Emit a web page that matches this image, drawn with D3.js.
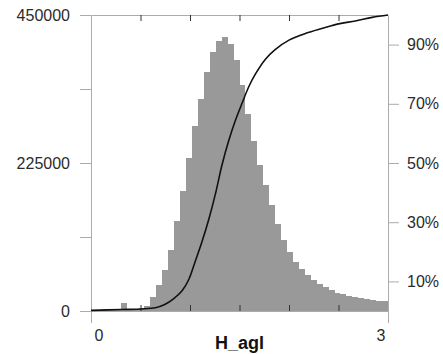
<!DOCTYPE html>
<html>
<head>
<meta charset="utf-8">
<script src="https://cdn.jsdelivr.net/npm/d3@7"></script>
<style>
  body { margin: 0; background: #fff; }
  svg { display: block; font-family: "Liberation Sans", Arial, sans-serif; }
</style>
</head>
<body>
<div id="graph"></div>
<script>
// histogram of H_agl, 50 bins of 0.06 between 0 and 3
const binWidth = 0.06;
const counts = [
  1000, 1500, 3000, 2000, 2500, 12000, 2500, 3000, 4500, 7700,
  21000, 39500, 62000, 93000, 137000, 183000, 232000, 281000, 323000, 363000,
  393000, 410000, 417000, 406000, 381000, 344000, 299000, 258000, 222000, 192000,
  161000, 132000, 108000, 89000, 75000, 64000, 55000, 47500, 41000, 36000,
  31500, 28000, 25500, 23000, 21000, 19300, 17800, 16700, 15800, 15000
];

// cumulative curve (x, percent)
const cdfX   = [0, 0.31, 0.51, 0.65, 0.75, 0.83, 0.92, 0.99, 1.05, 1.12, 1.19, 1.26, 1.32, 1.39, 1.46, 1.53, 1.59, 1.66, 1.76, 1.86, 2.0, 2.17, 2.34, 2.5, 2.67, 2.84, 3.0];
const cdfPct = [0.2, 0.5, 0.7, 1.1, 2.3, 4, 6.8, 10.8, 16.5, 23.3, 31, 40, 48.9, 57.4, 64.5, 70.5, 75.5, 80, 85, 88.3, 91.5, 93.8, 95.5, 97, 98, 99.2, 100];

const leftTicks = [0, 112500, 225000, 337500, 450000];
const leftLabels = [0, 225000, 450000];
const rightTicks = [10, 30, 50, 70, 90];
const innerTicks = [0.5, 1, 1.5, 2, 2.5];
const xLabels = [0, 3];
const xTitle = "H_agl";

const W = 443, H = 354;
const margin = { top: 15, right: 55, bottom: 43, left: 91 };
const x0 = margin.left, x1 = W - margin.right;   // 91 .. 388
const y0 = H - margin.bottom, y1 = margin.top;   // 311 .. 15

const xScale = d3.scaleLinear().domain([0, 3]).range([x0, x1]);
const yScale = d3.scaleLinear().domain([0, 450000]).range([y0, y1]);
const pScale = d3.scaleLinear().domain([0, 100]).range([y0, y1]);

const svg = d3.select("#graph").append("svg")
  .attr("width", W)
  .attr("height", H);

// bars
svg.append("g")
  .attr("shape-rendering", "crispEdges")
  .selectAll("rect")
  .data(counts)
  .join("rect")
  .attr("x", (d, i) => xScale(i * binWidth))
  .attr("width", (d, i) => xScale((i + 1) * binWidth) - xScale(i * binWidth))
  .attr("y", d => yScale(d))
  .attr("height", d => y0 - yScale(d))
  .attr("fill", "#999999");

const grey = "#ababab";
const textCol = "#2b2b2b";

// frame lines (top + bottom)
svg.append("g")
  .attr("transform", `translate(0,${y1})`)
  .call(d3.axisTop(xScale).tickValues(innerTicks).tickSize(-6).tickSizeOuter(0).tickFormat(""))
  .call(g => g.select(".domain").attr("stroke", grey))
  .call(g => g.selectAll(".tick line").attr("stroke", "#333"));

const bottom = svg.append("g")
  .attr("transform", `translate(0,${y0})`);
bottom.call(d3.axisBottom(xScale).tickValues(innerTicks).tickSize(-6).tickSizeOuter(0).tickFormat(""))
  .call(g => g.select(".domain").attr("stroke", grey))
  .call(g => g.selectAll(".tick line").attr("stroke", "#333"));

// 0 and 3 labels, ticks hang below the frame
svg.append("g")
  .attr("transform", `translate(0,${y0})`)
  .call(d3.axisBottom(xScale).tickValues(xLabels).tickSize(12).tickPadding(6).tickSizeOuter(0).tickFormat(d3.format("d")))
  .call(g => g.select(".domain").remove())
  .call(g => g.selectAll(".tick line").attr("stroke", grey))
  .call(g => g.selectAll(".tick text")
    .attr("font-size", 16)
    .attr("fill", textCol)
    .attr("text-anchor", (d, i) => i === 0 ? "start" : "end")
    .attr("x", (d, i) => i === 0 ? 3 : -3)
    .attr("y", 19)
    .attr("dy", "0.71em"));

// left axis
svg.append("g")
  .attr("transform", `translate(${x0},0)`)
  .call(d3.axisLeft(yScale).tickValues(leftTicks).tickSize(11).tickPadding(10).tickSizeOuter(0)
    .tickFormat(d => leftLabels.includes(d) ? d : ""))
  .call(g => g.select(".domain").attr("stroke", grey))
  .call(g => g.selectAll(".tick line").attr("stroke", grey))
  .call(g => g.selectAll(".tick text").attr("font-size", 16).attr("fill", textCol));

// right axis
svg.append("g")
  .attr("transform", `translate(${x1},0)`)
  .call(d3.axisRight(pScale).tickValues(rightTicks).tickSize(11).tickPadding(8).tickSizeOuter(0)
    .tickFormat(d => d + "%"))
  .call(g => g.select(".domain").attr("stroke", grey))
  .call(g => g.selectAll(".tick line").attr("stroke", grey))
  .call(g => g.selectAll(".tick text").attr("font-size", 16).attr("fill", textCol));

// cumulative curve
const line = d3.line()
  .x((d, i) => xScale(cdfX[i]))
  .y(d => pScale(d))
  .curve(d3.curveCatmullRom.alpha(0.5));

svg.append("path")
  .datum(cdfPct)
  .attr("fill", "none")
  .attr("stroke", "#111")
  .attr("stroke-width", 1.6)
  .attr("d", line);

// axis title
svg.append("text")
  .attr("x", (x0 + x1) / 2)
  .attr("y", 349)
  .attr("text-anchor", "middle")
  .attr("font-size", 18)
  .attr("font-weight", "bold")
  .attr("fill", "#111")
  .text(xTitle);
</script>
</body>
</html>
